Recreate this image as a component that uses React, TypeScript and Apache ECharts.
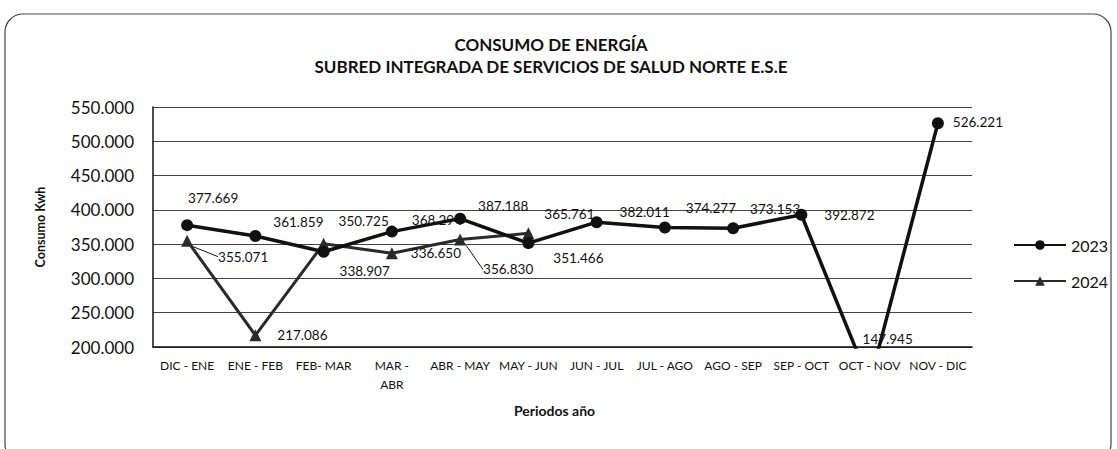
import React, { useEffect, useRef } from "react";
import * as echarts from "echarts";

const categories = [
  "DIC - ENE", "ENE - FEB", "FEB- MAR", "MAR - ABR", "ABR - MAY", "MAY - JUN",
  "JUN - JUL", "JUL - AGO", "AGO - SEP", "SEP - OCT", "OCT - NOV", "NOV - DIC",
];
const values2023 = [377669, 361859, 338907, 368294, 387188, 351466, 382011, 374277, 373153, 392872, 147945, 526221];
const values2024 = [355071, 217086, 350725, 336650, 356830, 365761, null, null, null, null, null, null];
const seriesNames = ["2023", "2024"];
const yMin = 200000;
const yMax = 550000;
const yStep = 50000;
const titleLines = ["CONSUMO DE ENERGÍA", "SUBRED INTEGRADA DE SERVICIOS DE SALUD NORTE E.S.E"];
const yAxisName = "Consumo Kwh";
const xAxisName = "Periodos año";
const wrappedCategories = ["MAR - ABR"];

// label placement (layout only)
const labelShift2023 = [[26, -27], [43, -14], [41, 19], [45, -12], [43, -13], [50, 15], [48, -10], [46, -19], [42, -19], [48, 0], [0, 0], [40, -1]];
const labelShift2024 = [[56, 16], [47, 0], [40, -23], [44, 0], [48, 30], [41, -19]];
const belowShift = [18, -8];

const FONT = "Lato, 'Open Sans', sans-serif";
const fmt = (v: number) => String(Math.round(v)).replace(/\B(?=(\d{3})+(?!\d))/g, ".");

export default function App() {
  const ref = useRef<HTMLDivElement>(null);
  useEffect(() => {
    document.body.style.margin = "0";
    const chart = echarts.init(ref.current!, null, { renderer: "svg" });
    const labelBase = {
      show: true,
      position: "inside",
      color: "#111",
      fontSize: 13.5,
      fontFamily: FONT,
      textBorderWidth: 0,
      opacity: 1,
    };
    chart.setOption({
      animation: false,
      backgroundColor: "#fff",
      textStyle: { fontFamily: FONT, color: "#111" },
      graphic: [
        {
          type: "rect",
          shape: { x: 5, y: 14, width: 1106, height: 448, r: 18 },
          style: { fill: "none", stroke: "#444", lineWidth: 1.2 },
          silent: true,
        },
        {
          type: "text",
          x: 551,
          y: 44,
          style: { text: titleLines[0], align: "center", verticalAlign: "middle", font: `bold 17px ${FONT}`, fill: "#111" },
        },
        {
          type: "text",
          x: 551,
          y: 66,
          style: { text: titleLines[1], align: "center", verticalAlign: "middle", font: `bold 17px ${FONT}`, fill: "#111" },
        },
      ],
      legend: {
        data: seriesNames,
        orient: "vertical",
        left: 1008,
        top: 232,
        itemWidth: 52,
        itemHeight: 12,
        itemGap: 20,
        textStyle: { fontSize: 16, color: "#111", fontFamily: FONT },
      },
      grid: { left: 153, right: 145, top: 107, bottom: 102, containLabel: false },
      xAxis: {
        type: "category",
        data: categories,
        boundaryGap: true,
        axisLine: { lineStyle: { color: "#111", width: 1.5 } },
        axisTick: { show: false },
        axisLabel: {
          interval: 0,
          fontSize: 12,
          color: "#111",
          margin: 9,
          lineHeight: 19,
          fontFamily: FONT,
          formatter: (v: string) => (wrappedCategories.includes(v) ? v.replace(" - ", " -\n") : v),
        },
        name: xAxisName,
        nameLocation: "middle",
        nameGap: 56,
        nameTextStyle: { fontWeight: "bold", fontSize: 14, color: "#111", fontFamily: FONT, padding: [0, 16, 0, 0] },
      },
      yAxis: {
        type: "value",
        min: yMin,
        max: yMax,
        interval: yStep,
        axisLine: { show: true, lineStyle: { color: "#111", width: 1.5 } },
        axisTick: { show: false },
        splitLine: { lineStyle: { color: "#444", width: 1 } },
        axisLabel: { formatter: fmt, fontSize: 17, color: "#111", margin: 19, fontFamily: FONT },
        name: yAxisName,
        nameLocation: "middle",
        nameGap: 106,
        nameTextStyle: { fontWeight: "bold", fontSize: 12.5, color: "#111", fontFamily: FONT },
      },
      series: [
        {
          name: seriesNames[0],
          type: "line",
          data: values2023,
          symbol: "circle",
          symbolSize: 12,
          clip: true,
          z: 3,
          lineStyle: { color: "#111", width: 3.5 },
          itemStyle: { color: "#111" },
          label: { ...labelBase, formatter: (p: any) => fmt(p.value) },
          labelLayout: (p: any) => {
            const s = labelShift2023[p.dataIndex] || [0, 0];
            return { dx: s[0], dy: s[1] };
          },
        },
        {
          name: seriesNames[1],
          type: "line",
          data: values2024.map((v, i) => (v == null ? null : i === 0 || i === 4 ? { value: v, labelLine: { show: true, lineStyle: { color: "#111", width: 1 } } } : v)),
          symbol: "triangle",
          symbolSize: 12,
          clip: true,
          z: 2,
          lineStyle: { color: "#2a2a2a", width: 3 },
          itemStyle: { color: "#2a2a2a" },
          label: { ...labelBase, formatter: (p: any) => fmt(p.value) },
          labelLayout: (p: any) => {
            const s = labelShift2024[p.dataIndex] || [0, 0];
            return { dx: s[0], dy: s[1] };
          },
        },
        {
          name: "below-range",
          type: "scatter",
          data: values2023.map((v) => (v < yMin ? yMin : null)),
          symbolSize: 0,
          itemStyle: { color: "#111", opacity: 1 },
          silent: true,
          clip: false,
          label: { ...labelBase, formatter: (p: any) => fmt(values2023[p.dataIndex]) },
          labelLayout: () => ({ dx: belowShift[0], dy: belowShift[1] }),
          z: 4,
        },
      ],
    });
    return () => chart.dispose();
  }, []);
  return <div ref={ref} style={{ width: 1117, height: 449 }} />;
}
